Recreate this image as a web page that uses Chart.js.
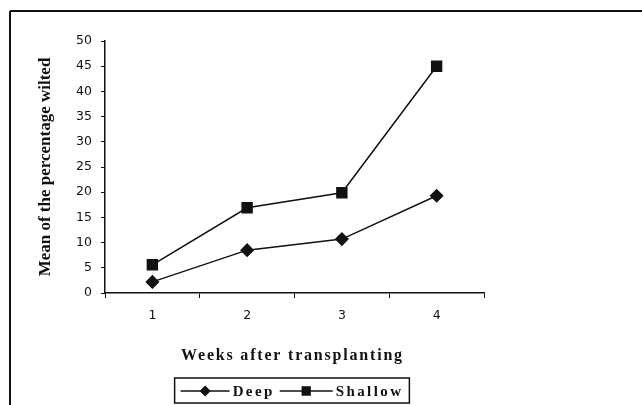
<!DOCTYPE html>
<html>
<head>
<meta charset="utf-8">
<script src="https://cdn.jsdelivr.net/npm/chart.js@4.4.1/dist/chart.umd.min.js"></script>
<style>
  html, body { margin: 0; padding: 0; background: #fff; }
</style>
</head>
<body>
<canvas id="wilt" width="642" height="405"></canvas>
<script>
// Values
const weeks = ["1", "2", "3", "4"];
const deep = [2.2, 8.5, 10.7, 19.3];
const shallow = [5.6, 16.9, 19.9, 45.0];
const yMin = 0, yMax = 50, yStep = 5;
const xTitle = "Weeks after transplanting";
const yTitle = "Mean of the percentage wilted";

const serif = "'Liberation Serif', 'Times New Roman', serif";
const sans = "'DejaVu Sans', sans-serif";

// frame (top + left edge of the scanned box), spaced x title, boxed legend
const framePlugin = {
  id: "frame",
  afterDraw(chart) {
    const ctx = chart.ctx;
    const area = chart.chartArea;
    ctx.save();
    ctx.strokeStyle = "#111";
    ctx.fillStyle = "#111";
    ctx.lineWidth = 2;
    ctx.beginPath();
    ctx.moveTo(10, 11);
    ctx.lineTo(642, 11);
    ctx.moveTo(10, 11);
    ctx.lineTo(10, 405);
    ctx.stroke();

    // x axis title, letter spaced like the original
    ctx.font = "bold 16px " + serif;
    ctx.letterSpacing = "1.8px";
    ctx.textAlign = "center";
    ctx.textBaseline = "middle";
    ctx.fillText(xTitle, (area.left + area.right) / 2 - 2, 356);

    // legend
    ctx.font = "bold 15px " + serif;
    ctx.letterSpacing = "2.4px";
    ctx.textAlign = "left";
    const items = chart.data.datasets;
    const lineLens = [49, 53], gap = 3, itemGap = 5;
    let total = 0;
    items.forEach((d, i) => {
      total += lineLens[i] + gap + ctx.measureText(d.label).width;
      if (i < items.length - 1) total += itemGap;
    });
    const cx = 292, cy = 391;
    let x = cx - total / 2;
    ctx.lineWidth = 1.5;
    ctx.strokeRect(x - 6, 378, total + 12, 25);
    items.forEach((d, i) => {
      ctx.beginPath();
      ctx.lineWidth = 1.5;
      ctx.moveTo(x, cy);
      ctx.lineTo(x + lineLens[i], cy);
      ctx.stroke();
      Chart.helpers.drawPoint(ctx, {
        pointStyle: d.pointStyle,
        radius: d.pointRadius - 1.5,
        borderWidth: 1
      }, x + lineLens[i] / 2, cy);
      ctx.fill();
      x += lineLens[i] + gap;
      ctx.fillText(d.label, x, cy + 1);
      x += ctx.measureText(d.label).width + itemGap;
    });
    ctx.restore();
  }
};

new Chart(document.getElementById("wilt"), {
  type: "line",
  data: {
    labels: weeks,
    datasets: [
      {
        label: "Deep",
        data: deep,
        borderColor: "#111",
        backgroundColor: "#111",
        borderWidth: 1.5,
        pointStyle: "rectRot",
        pointRadius: 6,
        pointBackgroundColor: "#111",
        pointBorderColor: "#111",
        tension: 0
      },
      {
        label: "Shallow",
        data: shallow,
        borderColor: "#111",
        backgroundColor: "#111",
        borderWidth: 1.5,
        pointStyle: "rect",
        pointRadius: 7,
        pointBackgroundColor: "#111",
        pointBorderColor: "#111",
        tension: 0
      }
    ]
  },
  options: {
    responsive: false,
    animation: false,
    layout: { padding: { left: 0, right: 158, top: 41, bottom: 0 } },
    plugins: {
      legend: { display: false },
      tooltip: { enabled: false }
    },
    scales: {
      x: {
        offset: true,
        grid: { offset: true, drawOnChartArea: false, tickLength: 5, color: "#111" },
        border: { color: "#111", width: 1.5 },
        ticks: { color: "#111", padding: 10, font: { family: sans, size: 12.5 } },
        title: { display: false, text: xTitle },
        afterFit(scale) { scale.height = 112; }
      },
      y: {
        min: yMin,
        max: yMax,
        grid: { drawOnChartArea: false, tickLength: 4, color: "#111" },
        border: { color: "#111", width: 1.5 },
        ticks: { stepSize: yStep, color: "#111", padding: 9, font: { family: sans, size: 12.5 } },
        title: {
          display: true,
          text: yTitle,
          color: "#111",
          font: { family: serif, size: 17, weight: "bold" },
          padding: { top: 35, bottom: 0 }
        },
        afterFit(scale) { scale.width = 105; }
      }
    }
  },
  plugins: [framePlugin]
});
</script>
</body>
</html>
